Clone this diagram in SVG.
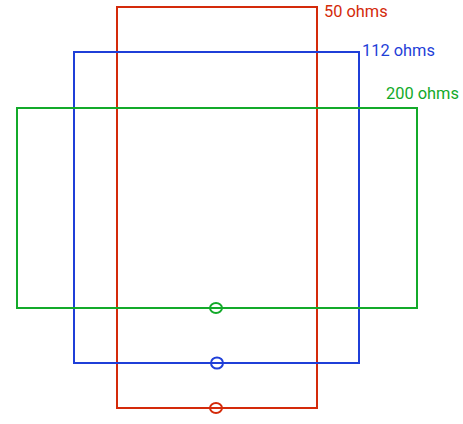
<svg xmlns="http://www.w3.org/2000/svg" width="463" height="424" viewBox="0 0 463 424">
<style>
.r{stroke:#d42a0a}.b{stroke:#1f3fd8}.g{stroke:#13aa2a}
rect,ellipse{fill:none;stroke-width:2}
text{font-family:Roboto,"Liberation Sans",sans-serif;font-size:16.4px}
</style>
<rect width="463" height="424" fill="#fff" stroke="none"/>
<g id="r50">
<rect class="r" x="117" y="7" width="200" height="401"/>
<ellipse class="r" cx="216" cy="408" rx="6" ry="5"/>
<text x="324" y="17" fill="#d42a0a">50 ohms</text>
</g>
<g id="r112">
<rect class="b" x="74" y="52" width="285" height="311"/>
<ellipse class="b" cx="217" cy="363" rx="6" ry="5.5"/>
<text x="362" y="56" fill="#1f3fd8">112 ohms</text>
</g>
<g id="r200">
<rect class="g" x="17" y="108" width="400" height="200"/>
<ellipse class="g" cx="216" cy="308" rx="6" ry="5"/>
<text x="386" y="99" fill="#13aa2a">200 ohms</text>
</g>
<g id="connectors"/>
</svg>
